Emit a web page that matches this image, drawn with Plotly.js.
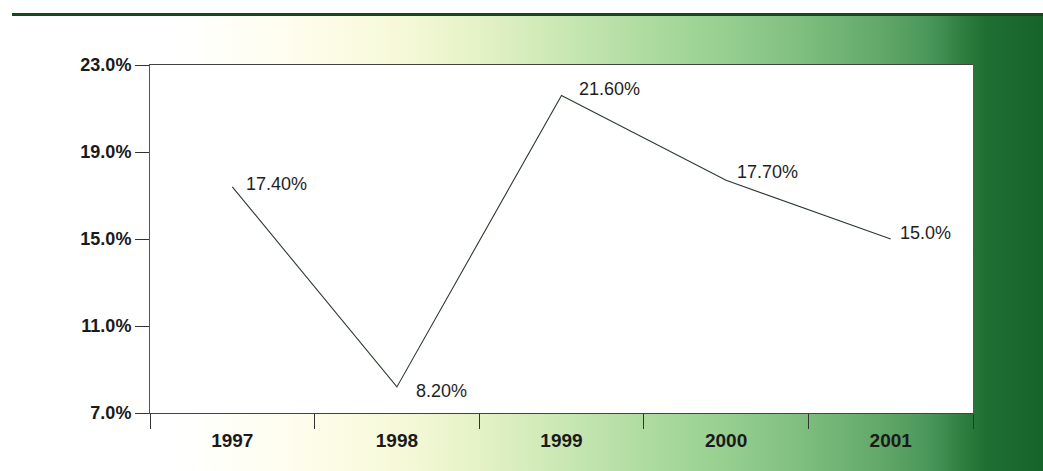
<!DOCTYPE html>
<html>
<head>
<meta charset="utf-8">
<script src="https://cdn.plot.ly/plotly-3.0.1.min.js"></script>
<style>
  html, body { margin: 0; padding: 0; width: 1043px; height: 471px; overflow: hidden; background: #ffffff; }
  #bg {
    position: absolute; left: 0; top: 16px; width: 1043px; height: 455px;
    background: linear-gradient(to right,
      #ffffff 0px, #ffffff 180px, #fefdec 300px, #f6f9d8 400px, #e4f2c6 480px,
      #cbe8b4 560px, #b0dca2 640px, #98d092 720px, #7fbf80 800px, #62a868 880px,
      #4a965a 930px, #2f7f40 962px, #1f6f33 985px, #17642b 1043px);
  }
  #topline { position: absolute; left: 12px; top: 13px; width: 1031px; height: 3px; background: #17461f; }
  #chart { position: absolute; left: 0; top: 0; width: 1043px; height: 471px; }
</style>
</head>
<body>
<div id="bg"></div>
<div id="topline"></div>
<div id="chart"></div>
<script>
var years = ['1997', '1998', '1999', '2000', '2001'];
var rates = [17.4, 8.2, 21.6, 17.7, 15.0];
var rateLabels = ['17.40%', '8.20%', '21.60%', '17.70%', '15.0%'];
var yTickValues = [7, 11, 15, 19, 23];
var yTickLabels = ['7.0%', '11.0%', '15.0%', '19.0%', '23.0%'];

var labelShiftX = [12, 17, 15, 9, 7];
var labelShiftY = [3, -4, 6, 8, 6];

var fontFam = '"Liberation Sans", Arial, sans-serif';

var trace = {
  x: years,
  y: rates,
  type: 'scatter',
  mode: 'lines',
  line: { color: '#2b3a2c', width: 1.1 },
  hoverinfo: 'skip'
};

var annotations = years.map(function (yr, i) {
  return {
    x: i, y: rates[i], xref: 'x', yref: 'y',
    text: rateLabels[i], showarrow: false,
    xanchor: 'left', yanchor: 'middle',
    xshift: labelShiftX[i], yshift: labelShiftY[i],
    font: { family: fontFam, size: 18, color: '#1e1e1e' }
  };
});

var layout = {
  width: 1043, height: 471,
  margin: { l: 150, r: 70, t: 65, b: 58, pad: 0 },
  paper_bgcolor: 'rgba(0,0,0,0)',
  plot_bgcolor: '#ffffff',
  showlegend: false,
  xaxis: {
    type: 'category',
    range: [-0.5, 4.5],
    tickson: 'boundaries',
    ticks: 'outside', ticklen: 15, tickwidth: 1, tickcolor: '#333333',
    ticklabelstandoff: 10,
    showline: true, linecolor: '#444444', linewidth: 1, mirror: true,
    showgrid: false, zeroline: false,
    tickfont: { family: fontFam, size: 19, color: '#1a1a1a', weight: 'bold' },
    fixedrange: true
  },
  yaxis: {
    range: [7, 23],
    tickvals: yTickValues,
    ticktext: yTickLabels,
    ticks: 'outside', ticklen: 14, tickwidth: 1, tickcolor: '#333333',
    showline: true, linecolor: '#555555', linewidth: 1,
    showgrid: false, zeroline: false,
    tickfont: { family: fontFam, size: 18, color: '#1a1a1a', weight: 'bold' },
    fixedrange: true
  },
  annotations: annotations
};

Plotly.newPlot('chart', [trace], layout, { displayModeBar: false, staticPlot: true });
</script>
</body>
</html>
